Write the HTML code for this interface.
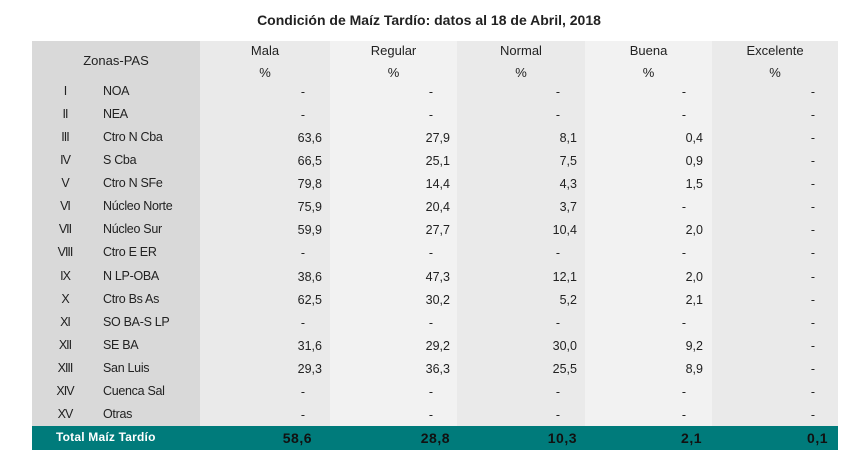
<!DOCTYPE html>
<html><head><meta charset="utf-8"><style>
body{margin:0;width:858px;height:474px;background:#fff;font-family:"Liberation Sans",Arial,sans-serif;position:relative;overflow:hidden;color:#222}
div{position:absolute}
.t{font-size:12.5px;line-height:14px;white-space:nowrap}
.r{text-align:right}
.c{text-align:center}
</style></head><body>
<div style="left:0;width:858px;top:12px;font-size:14px;font-weight:bold;text-align:center;">Condición de Maíz Tardío: datos al 18 de Abril, 2018</div>
<div style="left:32px;top:41px;width:168px;height:385px;background:#d9d9d9"></div>
<div style="left:200px;top:41px;width:130px;height:385px;background:#eaeaea"></div>
<div style="left:330px;top:41px;width:127px;height:385px;background:#f2f2f2"></div>
<div style="left:457px;top:41px;width:128px;height:385px;background:#eaeaea"></div>
<div style="left:585px;top:41px;width:127px;height:385px;background:#f2f2f2"></div>
<div style="left:712px;top:41px;width:126px;height:385px;background:#eaeaea"></div>
<div style="left:32px;top:426px;width:806px;height:24px;background:#007b7b"></div>
<div class="t c" style="left:32px;width:168px;top:54px;font-size:13px">Zonas-PAS</div>
<div id="rows"></div>
<script>
var cols=[[200,330,'Mala'],[330,457,'Regular'],[457,585,'Normal'],[585,712,'Buena'],[712,838,'Excelente']];
var ends=[322,450,577,703,830];
var h='';
cols.forEach(function(c){h+='<div class="t c" style="left:'+c[0]+'px;width:'+(c[1]-c[0])+'px;top:44px;font-size:13px">'+c[2]+'</div><div class="t c" style="left:'+c[0]+'px;width:'+(c[1]-c[0])+'px;top:66px;font-size:13px">%</div>';});
var d=[['I','NOA',[]],['II','NEA',[]],['III','Ctro N Cba',['63,6','27,9','8,1','0,4']],['IV','S Cba',['66,5','25,1','7,5','0,9']],['V','Ctro N SFe',['79,8','14,4','4,3','1,5']],['VI','Núcleo Norte',['75,9','20,4','3,7']],['VII','Núcleo Sur',['59,9','27,7','10,4','2,0']],['VIII','Ctro E ER',[]],['IX','N LP-OBA',['38,6','47,3','12,1','2,0']],['X','Ctro Bs As',['62,5','30,2','5,2','2,1']],['XI','SO BA-S LP',[]],['XII','SE BA',['31,6','29,2','30,0','9,2']],['XIII','San Luis',['29,3','36,3','25,5','8,9']],['XIV','Cuenca Sal',[]],['XV','Otras',[]]];
d.forEach(function(r,i){var y=84+i*23.07;
h+='<div class="t c" style="left:45px;width:40px;top:'+y+'px;letter-spacing:-1px">'+r[0]+'</div><div class="t" style="left:103px;top:'+y+'px;letter-spacing:-0.3px">'+r[1]+'</div>';
for(var k=0;k<5;k++){var v=r[2][k];
if(v)h+='<div class="t r" style="left:'+(ends[k]-60)+'px;width:60px;top:'+(y+1)+'px">'+v+'</div>';
else h+='<div class="t r" style="left:'+(ends[k]-(k==4?15:17)-60)+'px;width:60px;top:'+(y+1)+'px">-</div>';}
});
h+='<div class="t" style="left:56px;top:430px;color:#fff;font-weight:bold;font-size:12px;letter-spacing:0.2px">Total Maíz Tardío</div>';
['58,6','28,8','10,3','2,1','0,1'].forEach(function(v,k){var e=[312,450,577,702,828][k];h+='<div class="t r" style="left:'+(e-60)+'px;width:60px;top:431px;color:#111;font-weight:bold;font-size:14px;letter-spacing:0.5px">'+v+'</div>';});
document.getElementById('rows').innerHTML=h;
</script>
</body></html>
